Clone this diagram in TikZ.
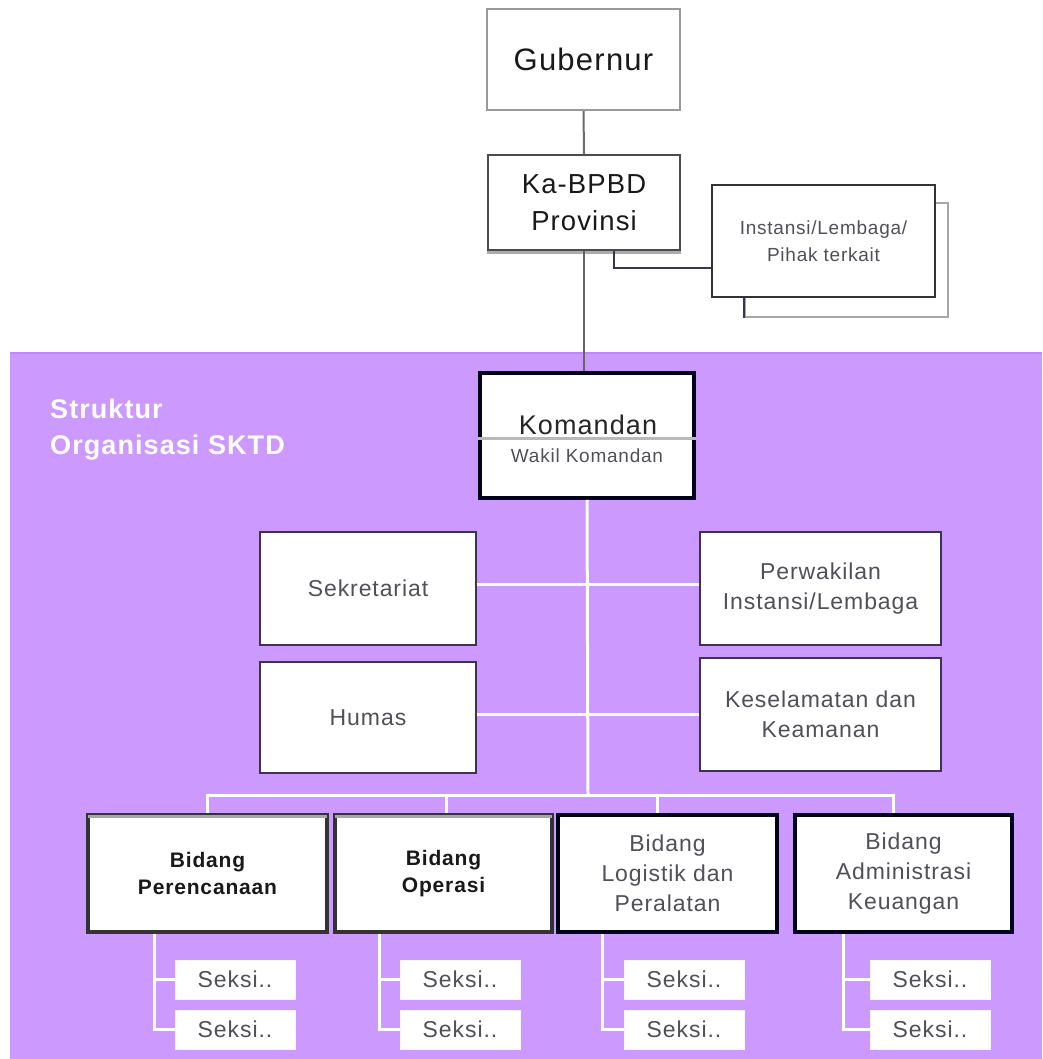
\documentclass[tikz,border=0pt]{standalone}
\usepackage{fontspec}
\setmainfont[LetterSpace=4]{Liberation Sans}
\usetikzlibrary{calc}
\definecolor{zone}{HTML}{CC99FF}
\definecolor{zoneedge}{HTML}{BB88FF}
\definecolor{txtgray}{HTML}{505058}
\definecolor{boxedge}{HTML}{3C3350}
\tikzset{
  fs/.style 2 args={font=\fontsize{#1}{#2}\selectfont},
  fsb/.style 2 args={font=\fontsize{#1}{#2}\selectfont\bfseries},
  topbox/.style={draw=#1, line width=2pt, fill=white, inner sep=0pt, align=center},
  plainbox/.style={draw=boxedge, line width=1.6pt, fill=white, inner sep=0pt, align=center,
    text=txtgray, fs={23}{30}},
  bidbox/.style={draw=#1, line width=3.5pt, fill=white, inner sep=0pt, align=center},
  seksibox/.style={draw=white!88!zone, line width=1pt, fill=white, inner sep=0pt,
    minimum width=120pt, minimum height=39pt, text=txtgray, fs={23}{26}},
  gline/.style={draw=gray!85!black, line width=2pt},
  dline/.style={draw=boxedge, line width=2pt},
  wline/.style={draw=white, line width=3pt},
}
\begin{document}
\begin{tikzpicture}[x=1pt, y=-1pt]
\useasboundingbox (0,0) rectangle (1042,1059);
\fill[white] (0,0) rectangle (1042,1059);

% shaded SKTD zone
\fill[zone] (10,352) rectangle (1042,1059);
\draw[zoneedge, line width=2pt] (10,353) -- (1042,353);
\node[anchor=north west, text=white, fsb={27}{36}, align=left, inner sep=0pt]
  (title) at (50,399) {Struktur\\Organisasi SKTD};

% upper chain
\node[topbox=gray!80, minimum width=193pt, minimum height=101pt, fs={31}{36}, text=black!90] (gub) at (583.5,59.5) {Gubernur};
\node[topbox=gray!60!black, minimum width=192pt, minimum height=95pt, fs={27.5}{37}, text=black!90] (kab) at (584,202.5)
  {Ka-BPBD\\Provinsi};
\draw[gray!65, line width=3pt] ([yshift=-1.5pt]kab.south west) -- ([yshift=-1.5pt]kab.south east);

% related agencies (stacked boxes)
\node[draw=gray!70, line width=2pt, fill=white, minimum width=203pt, minimum height=114pt] (instb) at (846.5,260) {};
\draw[boxedge, line width=2pt] (instb.north west) -- (instb.south west);
\node[topbox=gray!40!black, minimum width=223pt, minimum height=112pt, fs={19}{27}, text=txtgray] (inst) at (823.5,241)
  {Instansi/Lembaga/\\Pihak terkait};
\draw[dline] ([xshift=30pt]kab.south) |- ($(inst.west)+(0,27)$);

\draw[gline] (gub.south) -- (kab.north);

% commander
\node[draw=black!90!blue, line width=3.5pt, fill=white, minimum width=214pt, minimum height=125pt] (kom) at (587,435.5) {};
\draw[gray!55, line width=3pt] (kom.west |- 0,438) -- (kom.east |- 0,438);
\node[fs={27}{30}, text=black!85, inner sep=0pt, anchor=base] (komt) at (588,434) {Komandan};
\node[fs={19}{20}, text=txtgray, inner sep=0pt, anchor=base] (wakt) at (587,462) {Wakil Komandan};
\draw[gray!80!black, line width=2pt] (kab.south) -- (kab.south |- kom.north);

% staff units
\node[plainbox, minimum width=216pt, minimum height=113pt] (sek) at (368,588.5) {Sekretariat};
\node[plainbox, minimum width=241pt, minimum height=113pt] (per) at (820.5,588.5) {Perwakilan\\Instansi/Lembaga};
\node[plainbox, minimum width=216pt, minimum height=111pt] (hum) at (368,717.5) {Humas};
\node[plainbox, minimum width=241pt, minimum height=113pt] (kes) at (820.5,714.5) {Keselamatan dan\\Keamanan};

\coordinate (bus) at (588,795);
\draw[wline] (kom.south) -- (bus);
\draw[wline] ([yshift=4pt]sek.east) -- ([yshift=4pt]sek.east -| per.west);
\draw[wline] (kes.west -| hum.east) -- (kes.west);

% divisions
\node[bidbox=black!80, minimum width=239pt, minimum height=117pt, fsb={21}{27}, text=black!90] (b1) at (207.5,873.5) {Bidang\\Perencanaan};
\node[bidbox=black!80, minimum width=217pt, minimum height=117pt, fsb={21}{27}, text=black!90] (b2) at (443.5,873.5) {Bidang\\Operasi};
\node[bidbox=black!90!blue, minimum width=219pt, minimum height=117pt, fs={23}{30}, text=txtgray] (b3) at (667.5,873.5) {Bidang\\Logistik dan\\Peralatan};
\node[bidbox=black!90!blue, minimum width=217pt, minimum height=117pt, fs={23}{30}, text=txtgray] (b4) at (903.5,873.5) {Bidang\\Administrasi\\Keuangan};
\foreach \b in {b1,b2} \draw[gray!70, line width=2.5pt] ([xshift=2pt,yshift=-3pt]\b.north west) -- ([xshift=-2pt,yshift=-3pt]\b.north east);

\draw[wline] (b1.north) |- (bus) -| ([xshift=-10pt]b4.north);
\draw[wline] ([xshift=3pt]b2.north) -- ([xshift=3pt]b2.north |- bus);
\draw[wline] ([xshift=-10pt]b3.north) -- ([xshift=-10pt]b3.north |- bus);

% sections
\foreach \b/\x [count=\i] in {b1/235, b2/460, b3/684, b4/930} {
  \node[seksibox] (s\i a) at (\x,979.5) {Seksi..};
  \node[seksibox] (s\i b) at (\x,1029.5) {Seksi..};
}
\draw[wline] ([xshift=-53pt]b1.south) |- (s1a.west);
\draw[wline] ([xshift=-53pt]b1.south) |- (s1b.west);
\draw[wline] ([xshift=-64pt]b2.south) |- (s2a.west);
\draw[wline] ([xshift=-64pt]b2.south) |- (s2b.west);
\draw[wline] ([xshift=-65pt]b3.south) |- (s3a.west);
\draw[wline] ([xshift=-65pt]b3.south) |- (s3b.west);
\draw[wline] ([xshift=-60pt]b4.south) |- (s4a.west);
\draw[wline] ([xshift=-60pt]b4.south) |- (s4b.west);
\end{tikzpicture}
\end{document}
